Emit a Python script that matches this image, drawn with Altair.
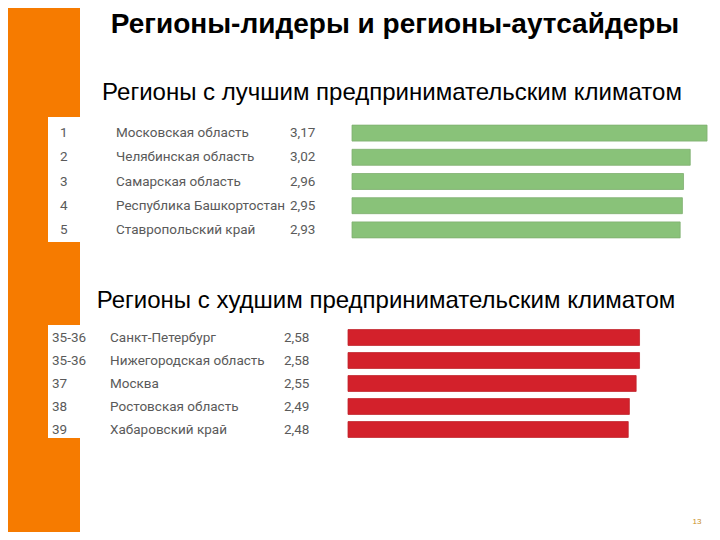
import altair as alt
import pandas as pd

# ---- data ----
top_ranks = ["1", "2", "3", "4", "5"]
top_names = ["Московская область", "Челябинская область", "Самарская область",
             "Республика Башкортостан", "Ставропольский край"]
top_values = [3.17, 3.02, 2.96, 2.95, 2.93]

bottom_ranks = ["35-36", "35-36", "37", "38", "39"]
bottom_names = ["Санкт-Петербург", "Нижегородская область", "Москва",
                "Ростовская область", "Хабаровский край"]
bottom_values = [2.58, 2.58, 2.55, 2.49, 2.48]

title_text = "Регионы-лидеры и регионы-аутсайдеры"
sub_top = "Регионы с лучшим предпринимательским климатом"
sub_bottom = "Регионы с худшим предпринимательским климатом"
page_no = "13"

def frame(ranks, names, values):
    return pd.DataFrame({
        "rank": ranks,
        "name": names,
        "value": values,
        "label": [f"{v:.2f}".replace(".", ",") for v in values],
    })

top_df = frame(top_ranks, top_names, top_values)
bot_df = frame(bottom_ranks, bottom_names, bottom_values)
one = pd.DataFrame({"t": [0]})

W, H = 704, 524
ORANGE = "#f67b00"
TABLE_FONT = "Roboto, sans-serif"
HEAD_FONT = "Liberation Sans, Arial, sans-serif"

def section(df, yrange, pad, xrange, color, stroke, rank_x, name_x, val_x):
    yscale = alt.Scale(type="band", domain=list(df["name"]), range=yrange,
                       paddingInner=pad, paddingOuter=pad / 2)
    ysc = alt.Y("name:N", scale=yscale, axis=None, sort=None)
    bars = alt.Chart(df).mark_bar(color=color, stroke=stroke, strokeWidth=0.8,
                                  cornerRadius=0).encode(
        x=alt.X("value:Q", scale=alt.Scale(domain=[0, 3], range=xrange, zero=True),
                axis=None),
        y=ysc,
    )
    def txt(field, x):
        return alt.Chart(df).mark_text(align="left", baseline="middle",
                                       font=TABLE_FONT, fontSize=13.5,
                                       color="#5a5a5a").encode(
            x=alt.value(x), y=ysc, text=f"{field}:N")
    return [bars, txt("rank", rank_x), txt("name", name_x), txt("label", val_x)]

def rect(x, x2, y, y2, color):
    return alt.Chart(one).mark_rect(color=color).encode(
        x=alt.value(x), x2=alt.value(x2), y=alt.value(y), y2=alt.value(y2))

def label(text, x, y, size, bold=False, color="#000000", font=HEAD_FONT):
    return alt.Chart(one).mark_text(align="center", baseline="middle", font=font,
                                    fontSize=size, fontWeight="bold" if bold else "normal",
                                    color=color).encode(
        x=alt.value(x), y=alt.value(y), text=alt.value(text))

layers = [
    rect(-8, 72, -8, H, ORANGE),
    rect(40, 72, 109, 234, "#ffffff"),
    rect(40, 72, 317, 430, "#ffffff"),
    label(title_text, 387, 17, 28, bold=True),
    label(sub_top, 384, 85, 24),
    label(sub_bottom, 378, 293, 24),
    label(page_no, 689, 514, 8, color="#c8902a"),
]
layers += section(top_df, [113, 234], 0.34, [344, 680], "#89c279", "#7fae70",
                  52, 108, 282)
layers += section(bot_df, [318, 433], 0.31, [340, 679], "#d3212b", "#c0242c",
                  44, 102, 276)

chart = alt.layer(*layers).resolve_scale(x="independent", y="independent").properties(
    width=W, height=H, padding=0, autosize="none", background="#ffffff"
).configure_view(stroke=None)

chart.save("out.html", embed_options={"renderer": "svg", "actions": False})
